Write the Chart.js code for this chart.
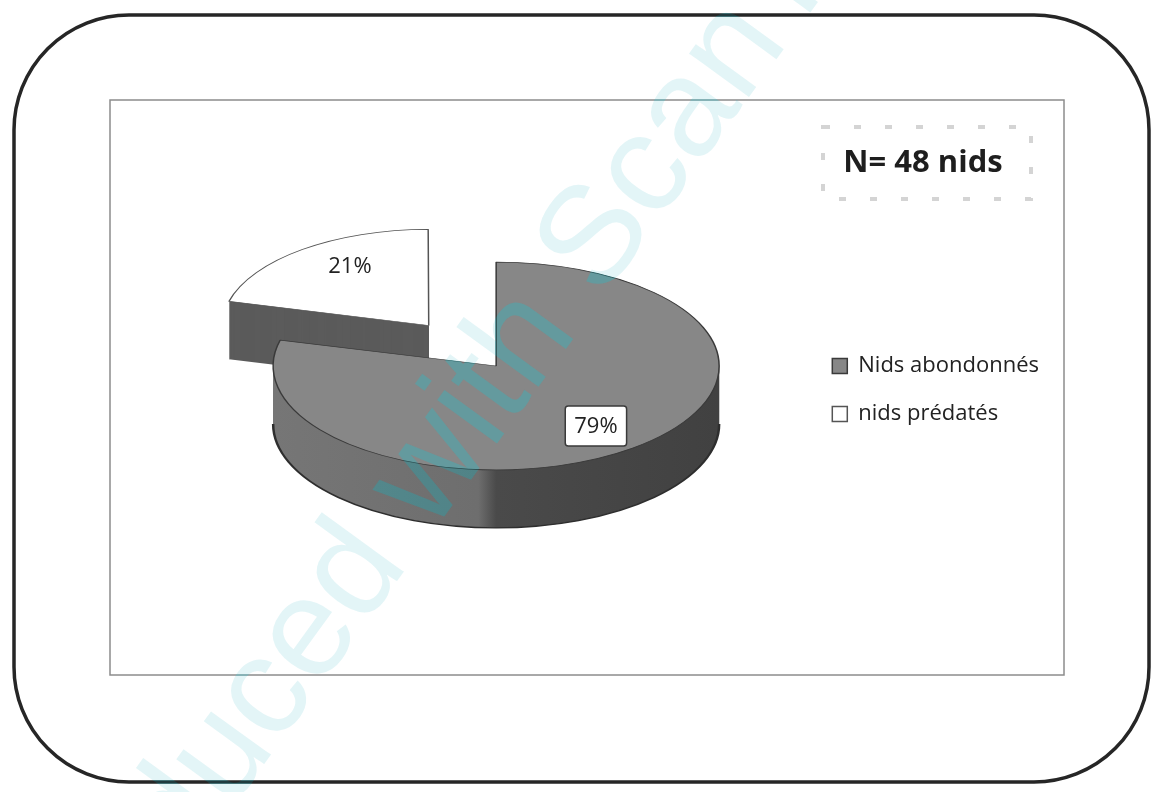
<!DOCTYPE html>
<html>
<head>
<meta charset="utf-8">
<script src="https://cdn.jsdelivr.net/npm/chart.js@4.4.1/dist/chart.umd.min.js"></script>
<style>
  html, body { margin: 0; padding: 0; background: #fff; }
  canvas { display: block; }
</style>
</head>
<body>
<canvas id="pie" width="1156" height="792"></canvas>
<script>
// nest outcome shares (%)
const categories = ['Nids abondonnés', 'nids prédatés'];
const percentages = [79, 21];
const pulledOut = 'nids prédatés';
const sampleNote = 'N= 48 nids';
const stampText = 'Produced with ScanTo PDF';

const topColors = ['#878787', '#ffffff'];
const edgeColors = ['#3a3a3a', '#555555'];

const TILT = 0.466;       // vertical squash of the disc
const DEPTH = 58;         // disc thickness, px
const EXPLODE = 110;      // pull-out distance of the small slice
const BACK_SCALE = 0.91;  // far slice drawn a little smaller
const LABEL_POS = 0.73;   // label distance as share of radius

// draw an arc element again with other colours
function drawCopy(arc, ctx, fill) {
  const copy = Object.create(arc);
  copy.options = Object.assign({}, arc.options, { backgroundColor: fill, borderColor: fill, borderWidth: 0 });
  arc.draw.call(copy, ctx);
}

const backdrop = {
  id: 'backdrop',
  beforeDraw(chart) {
    const ctx = chart.ctx;
    ctx.save();
    ctx.fillStyle = '#fff';
    ctx.fillRect(0, 0, chart.width, chart.height);

    ctx.beginPath();
    ctx.roundRect(14, 15, 1135, 767, 115);
    ctx.lineWidth = 3.5;
    ctx.strokeStyle = '#262626';
    ctx.stroke();

    ctx.lineWidth = 1.5;
    ctx.strokeStyle = '#8c8c8c';
    ctx.strokeRect(110, 100, 954, 575);

    ctx.setLineDash([7, 24]);
    ctx.lineWidth = 4;
    ctx.strokeStyle = '#d4d4d4';
    ctx.strokeRect(823, 127, 208, 72);
    ctx.setLineDash([]);

    ctx.fillStyle = '#1e1e1e';
    ctx.font = 'bold 31px "Open Sans"';
    ctx.textAlign = 'center';
    ctx.textBaseline = 'alphabetic';
    ctx.fillText(sampleNote, 923, 172);
    ctx.restore();
  }
};

const pie3d = {
  id: 'pie3d',
  afterDatasetUpdate(chart) {
    chart.getDatasetMeta(0).data.forEach(arc => {
      if (arc.options.offset) arc.outerRadius *= BACK_SCALE;
    });
  },
  beforeDatasetsDraw(chart) {
    const ctx = chart.ctx;
    const arcs = chart.getDatasetMeta(0).data;
    const cx = arcs[0].x, cy = arcs[0].y, R = arcs[0].outerRadius;
    ctx.save();
    ctx.translate(cx, cy);
    ctx.scale(1, TILT);
    ctx.translate(-cx, -cy);

    const shade = ctx.createLinearGradient(cx - R, 0, cx + R, 0);
    shade.addColorStop(0, '#767676');
    shade.addColorStop(0.46, '#6e6e6e');
    shade.addColorStop(0.5, '#4a4a4a');
    shade.addColorStop(1, '#414141');
    const sideColors = [shade, '#5b5b5b'];

    // back slice first, then the front one
    for (let i = arcs.length - 1; i >= 0; i--) {
      for (let d = DEPTH; d >= 1; d--) {
        ctx.save();
        ctx.translate(0, d / TILT);
        drawCopy(arcs[i], ctx, sideColors[i]);
        ctx.restore();
      }
    }

    // dark rim along the bottom front edge
    arcs.forEach(arc => {
      const a0 = Math.max(arc.startAngle, 0);
      const a1 = Math.min(arc.endAngle, Math.PI);
      if (a1 <= a0) return;
      ctx.beginPath();
      ctx.arc(arc.x, arc.y + DEPTH / TILT, arc.outerRadius, a0, a1);
      ctx.lineWidth = 2.5;
      ctx.strokeStyle = '#2e2e2e';
      ctx.stroke();
    });
  },
  afterDatasetsDraw(chart) {
    const ctx = chart.ctx;
    ctx.restore();
    const arcs = chart.getDatasetMeta(0).data;
    ctx.save();
    ctx.font = '22px "Open Sans"';
    ctx.textAlign = 'center';
    ctx.textBaseline = 'middle';
    arcs.forEach((arc, i) => {
      const mid = (arc.startAngle + arc.endAngle) / 2;
      const r = (arc.options.offset || 0) / 4 + arc.outerRadius * LABEL_POS;
      let x = arc.x + Math.cos(mid) * r;
      let y = arc.y + Math.sin(mid) * r * TILT;
      const text = percentages[i] + '%';
      if (!arc.options.offset) {
        const w = ctx.measureText(text).width + 18;
        ctx.fillStyle = '#ffffff';
        ctx.strokeStyle = '#3a3a3a';
        ctx.lineWidth = 1.5;
        ctx.beginPath();
        ctx.roundRect(x - w / 2, y - 20, w, 40, 3);
        ctx.fill();
        ctx.stroke();
      } else {
        // sits a little right of the middle on the pulled-out slice
        x += 12;
        y -= 5;
      }
      ctx.fillStyle = '#222';
      ctx.fillText(text, x, y + 1);
    });
    ctx.restore();
  }
};

const stamp = {
  id: 'stamp',
  afterDraw(chart) {
    const ctx = chart.ctx;
    const size = 140;
    ctx.save();
    ctx.font = size + 'px "Liberation Sans"';
    ctx.translate(403, 573);
    ctx.rotate(-54 * Math.PI / 180);
    const lead = ctx.measureText('Produce').width + 0.48 * size;
    // teal over the grey disc (overlay leaves white untouched), then a pale tint
    ctx.globalCompositeOperation = 'overlay';
    ctx.fillStyle = 'rgba(60, 170, 175, 0.4)';
    ctx.fillText(stampText, -lead, 0);
    ctx.globalCompositeOperation = 'source-over';
    ctx.fillStyle = 'rgba(40, 180, 190, 0.13)';
    ctx.fillText(stampText, -lead, 0);
    ctx.restore();
  }
};

new Chart(document.getElementById('pie'), {
  type: 'pie',
  data: {
    labels: categories,
    datasets: [{
      data: percentages,
      backgroundColor: topColors,
      borderColor: edgeColors,
      borderWidth: 1.5,
      offset: categories.map(c => c === pulledOut ? EXPLODE * 4 : 0),
      radius: 223,
      clip: false
    }]
  },
  options: {
    responsive: false,
    animation: false,
    cutout: '0%',
    layout: { padding: { left: 186, right: 107, top: 281, bottom: 341 } },
    plugins: {
      legend: {
        position: 'right',
        align: 'end',
        labels: {
          boxWidth: 15,
          boxHeight: 15,
          padding: 26,
          color: '#222',
          font: { family: 'Open Sans', size: 22 }
        }
      },
      tooltip: { enabled: false }
    }
  },
  plugins: [backdrop, pie3d, stamp]
});
</script>
</body>
</html>
